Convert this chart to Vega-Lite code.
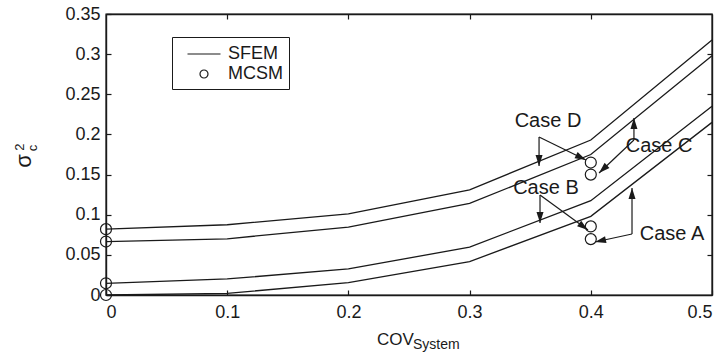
{
  "$schema": "https://vega.github.io/schema/vega-lite/v6.json",
  "width": 606,
  "height": 281,
  "autosize": {"type": "none"},
  "padding": {"left": 106, "top": 14, "right": 16, "bottom": 61},
  "background": "white",
  "config": {
    "font": "Liberation Sans",
    "view": {"stroke": "#1a1a1a", "strokeWidth": 1.4},
    "axis": {
      "labelFont": "Liberation Sans",
      "labelFontSize": 18,
      "labelColor": "#1a1a1a",
      "domainColor": "#1a1a1a",
      "domainWidth": 1.4,
      "tickColor": "#1a1a1a",
      "tickWidth": 1.2,
      "tickSize": -5,
      "grid": false,
      "title": null
    },
    "legend": {
      "labelFont": "Liberation Sans",
      "labelFontSize": 18,
      "labelColor": "#1a1a1a"
    }
  },
  "datasets": {
    "sfem": [
      {"case": "D", "cov": 0.0, "var": 0.082},
      {"case": "D", "cov": 0.1, "var": 0.0875},
      {"case": "D", "cov": 0.2, "var": 0.101},
      {"case": "D", "cov": 0.3, "var": 0.131},
      {"case": "D", "cov": 0.4, "var": 0.193},
      {"case": "D", "cov": 0.5, "var": 0.3175},
      {"case": "C", "cov": 0.0, "var": 0.0666},
      {"case": "C", "cov": 0.1, "var": 0.070},
      {"case": "C", "cov": 0.2, "var": 0.0846},
      {"case": "C", "cov": 0.3, "var": 0.114},
      {"case": "C", "cov": 0.4, "var": 0.175},
      {"case": "C", "cov": 0.5, "var": 0.298},
      {"case": "B", "cov": 0.0, "var": 0.0146},
      {"case": "B", "cov": 0.1, "var": 0.020},
      {"case": "B", "cov": 0.2, "var": 0.0325},
      {"case": "B", "cov": 0.3, "var": 0.0596},
      {"case": "B", "cov": 0.4, "var": 0.1175},
      {"case": "B", "cov": 0.5, "var": 0.235},
      {"case": "A", "cov": 0.0, "var": 0.0},
      {"case": "A", "cov": 0.1, "var": 0.002},
      {"case": "A", "cov": 0.2, "var": 0.0154},
      {"case": "A", "cov": 0.3, "var": 0.0416},
      {"case": "A", "cov": 0.4, "var": 0.098},
      {"case": "A", "cov": 0.5, "var": 0.215}
    ],
    "mcsm": [
      {"method": "MCSM", "cov": 0.0, "var": 0.082},
      {"method": "MCSM", "cov": 0.0, "var": 0.0666},
      {"method": "MCSM", "cov": 0.0, "var": 0.0146},
      {"method": "MCSM", "cov": 0.0, "var": 0.0},
      {"method": "MCSM", "cov": 0.4, "var": 0.165},
      {"method": "MCSM", "cov": 0.4, "var": 0.15},
      {"method": "MCSM", "cov": 0.4, "var": 0.0854},
      {"method": "MCSM", "cov": 0.4, "var": 0.0696}
    ],
    "arrows": [
      {"case": "D", "x": 0.3573, "y": 0.1968, "x2": 0.3573, "y2": 0.1607},
      {"case": "D", "x": 0.3573, "y": 0.1968, "x2": 0.396, "y2": 0.1681},
      {"case": "C", "x": 0.4356, "y": 0.1931, "x2": 0.4356, "y2": 0.2205},
      {"case": "C", "x": 0.4356, "y": 0.1931, "x2": 0.4068, "y2": 0.152},
      {"case": "B", "x": 0.3581, "y": 0.1246, "x2": 0.3581, "y2": 0.0897},
      {"case": "B", "x": 0.3581, "y": 0.1246, "x2": 0.3977, "y2": 0.081},
      {"case": "A", "x": 0.434, "y": 0.076, "x2": 0.434, "y2": 0.1333},
      {"case": "A", "x": 0.434, "y": 0.076, "x2": 0.4035, "y2": 0.066}
    ],
    "labels": [
      {"label": "Case D", "x": 0.3647, "y": 0.2167},
      {"label": "Case C", "x": 0.4563, "y": 0.1856},
      {"label": "Case B", "x": 0.363, "y": 0.1333},
      {"label": "Case A", "x": 0.467, "y": 0.076}
    ]
  },
  "layer": [
    {
      "data": {"name": "sfem"},
      "mark": {"type": "line", "color": "#1a1a1a", "strokeWidth": 1.3},
      "encoding": {
        "x": {
          "field": "cov", "type": "quantitative",
          "scale": {"domain": [0, 0.5], "nice": false, "zero": false},
          "axis": {"orient": "bottom", "values": [0, 0.1, 0.2, 0.3, 0.4, 0.5], "format": "~g", "labelPadding": 13}
        },
        "y": {
          "field": "var", "type": "quantitative",
          "scale": {"domain": [0, 0.35], "nice": false, "zero": false},
          "axis": {"orient": "left", "values": [0, 0.05, 0.1, 0.15, 0.2, 0.25, 0.3, 0.35], "format": "~g", "labelPadding": 11}
        },
        "detail": {"field": "case"}
      }
    },
    {
      "data": {"name": "mcsm"},
      "mark": {"type": "point", "filled": false, "stroke": "#1a1a1a", "strokeWidth": 1.2, "size": 756, "opacity": 1},
      "encoding": {
        "x": {
          "field": "cov", "type": "quantitative",
          "axis": {"orient": "top", "values": [0.1, 0.2, 0.3, 0.4], "labels": false}
        },
        "y": {
          "field": "var", "type": "quantitative",
          "axis": {"orient": "right", "values": [0.05, 0.1, 0.15, 0.2, 0.25, 0.3], "labels": false}
        },
        "shape": {
          "field": "method", "type": "nominal",
          "scale": {
            "domain": ["SFEM", "MCSM"],
            "range": ["M-1.65,0L1.65,0", "M-0.4,0A0.4,0.4,0,1,0,0.4,0A0.4,0.4,0,1,0,-0.4,0Z"]
          },
          "legend": {
            "title": null,
            "orient": "none",
            "legendX": 66,
            "legendY": 23,
            "padding": 6,
            "strokeColor": "#1a1a1a",
            "fillColor": "white",
            "symbolSize": 400,
            "symbolOffset": 15,
            "symbolStrokeColor": "#1a1a1a",
            "symbolFillColor": "transparent",
            "symbolStrokeWidth": 1.2,
            "labelOffset": 13,
            "rowPadding": 0,
            "encode": {"legend": {"update": {"strokeWidth": {"value": 1.6}}}}
          }
        }
      }
    },
    {
      "data": {"name": "arrows"},
      "mark": {"type": "rule", "color": "#1a1a1a", "strokeWidth": 1.2},
      "encoding": {
        "x": {"field": "x", "type": "quantitative", "axis": null},
        "y": {"field": "y", "type": "quantitative", "axis": null},
        "x2": {"field": "x2"},
        "y2": {"field": "y2"}
      }
    },
    {
      "data": {"name": "arrows"},
      "transform": [
        {"calculate": "atan2((datum.x2 - datum.x) * 1212, (datum.y2 - datum.y) * 802.86) * 180 / PI", "as": "heading"}
      ],
      "mark": {"type": "point", "shape": "M0,0L0.32,1L-0.32,1Z", "filled": true, "color": "#1a1a1a", "size": 484, "opacity": 1},
      "encoding": {
        "x": {"field": "x2", "type": "quantitative", "axis": null},
        "y": {"field": "y2", "type": "quantitative", "axis": null},
        "angle": {"field": "heading", "type": "quantitative", "scale": null}
      }
    },
    {
      "data": {"name": "labels"},
      "mark": {"type": "text", "font": "Liberation Sans", "fontSize": 20, "color": "#1a1a1a", "align": "center", "baseline": "middle"},
      "encoding": {
        "x": {"field": "x", "type": "quantitative", "axis": null},
        "y": {"field": "y", "type": "quantitative", "axis": null},
        "text": {"field": "label"}
      }
    },
    {
      "data": {"values": [{}]},
      "layer": [
        {
          "mark": {"type": "text", "text": "COV", "font": "Liberation Sans", "fontSize": 17, "color": "#1a1a1a", "align": "left", "baseline": "alphabetic"},
          "encoding": {"x": {"datum": 0.2236, "type": "quantitative", "axis": null}, "y": {"datum": -0.0623, "type": "quantitative", "axis": null}}
        },
        {
          "mark": {"type": "text", "text": "System", "font": "Liberation Sans", "fontSize": 14, "color": "#1a1a1a", "align": "left", "baseline": "alphabetic"},
          "encoding": {"x": {"datum": 0.2533, "type": "quantitative", "axis": null}, "y": {"datum": -0.0673, "type": "quantitative", "axis": null}}
        },
        {
          "mark": {"type": "text", "text": "σ", "font": "Liberation Sans", "fontSize": 22, "color": "#1a1a1a", "align": "center", "baseline": "middle", "angle": 270},
          "encoding": {"x": {"datum": -0.0677, "type": "quantitative", "axis": null}, "y": {"datum": 0.1669, "type": "quantitative", "axis": null}}
        },
        {
          "mark": {"type": "text", "text": "2", "font": "Liberation Sans", "fontSize": 13, "color": "#1a1a1a", "align": "center", "baseline": "middle", "angle": 270},
          "encoding": {"x": {"datum": -0.071, "type": "quantitative", "axis": null}, "y": {"datum": 0.1843, "type": "quantitative", "axis": null}}
        },
        {
          "mark": {"type": "text", "text": "c", "font": "Liberation Sans", "fontSize": 13, "color": "#1a1a1a", "align": "center", "baseline": "middle", "angle": 270},
          "encoding": {"x": {"datum": -0.0602, "type": "quantitative", "axis": null}, "y": {"datum": 0.1831, "type": "quantitative", "axis": null}}
        }
      ]
    }
  ],
  "resolve": {"axis": {"x": "independent", "y": "independent"}}
}
